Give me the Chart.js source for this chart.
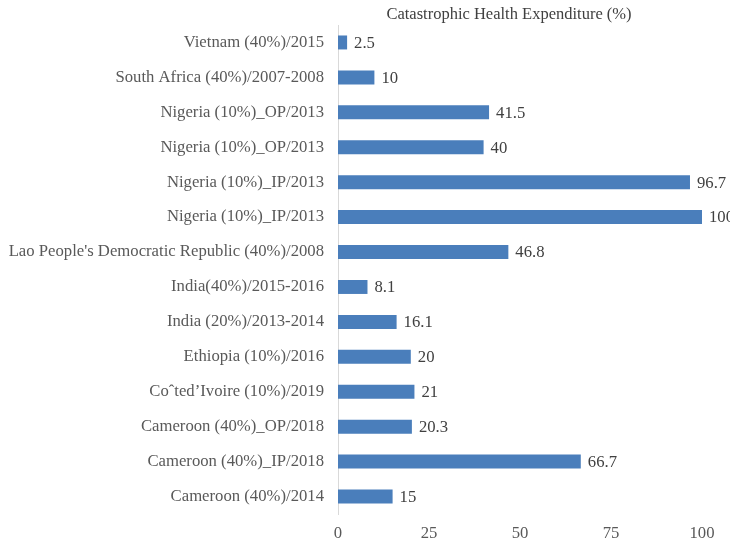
<!DOCTYPE html>
<html>
<head>
<meta charset="utf-8">
<script src="https://cdn.jsdelivr.net/npm/chart.js@4/dist/chart.umd.min.js"></script>
<style>
  html, body { margin: 0; padding: 0; background: #fff; }
  #wrap { width: 730px; height: 549px; }
</style>
</head>
<body>
<div id="wrap"><canvas id="myChart"></canvas></div>
<script>
var categories = [
  "Vietnam (40%)/2015",
  "South Africa (40%)/2007-2008",
  "Nigeria (10%)_OP/2013",
  "Nigeria (10%)_OP/2013",
  "Nigeria (10%)_IP/2013",
  "Nigeria (10%)_IP/2013",
  "Lao People's Democratic Republic (40%)/2008",
  "India(40%)/2015-2016",
  "India (20%)/2013-2014",
  "Ethiopia (10%)/2016",
  "Co\u02c6ted\u2019Ivoire (10%)/2019",
  "Cameroon (40%)_OP/2018",
  "Cameroon (40%)_IP/2018",
  "Cameroon (40%)/2014"
];
var che = [2.5, 10, 41.5, 40, 96.7, 100, 46.8, 8.1, 16.1, 20, 21, 20.3, 66.7, 15];
var xTicks = [0, 25, 50, 75, 100];
var chartTitle = "Catastrophic Health Expenditure (%)";

var fontFam = "'Liberation Serif', 'Times New Roman', serif";

// labels at the end of each bar + title over the plot
var barLabels = {
  id: "barLabels",
  afterDatasetsDraw(chart) {
    var ctx = chart.ctx;
    var meta = chart.getDatasetMeta(0);
    var area = chart.chartArea;
    ctx.save();
    ctx.font = "16.7px " + fontFam;
    ctx.fillStyle = "#404040";
    ctx.textBaseline = "middle";
    meta.data.forEach((bar, i) => {
      ctx.fillText(String(che[i]), bar.x + 7, bar.y + 1);
    });
    ctx.font = "16.5px " + fontFam;
    ctx.textAlign = "center";
    ctx.fillText(chartTitle, (area.left + area.right) / 2 - 11, 15);
    ctx.restore();
  }
};

new Chart("myChart", {
  type: "bar",
  data: {
    labels: categories,
    datasets: [{
      data: che,
      backgroundColor: "#4a7ebb",
      categoryPercentage: 1,
      barPercentage: 0.4
    }]
  },
  options: {
    indexAxis: "y",
    responsive: true,
    maintainAspectRatio: false,
    animation: false,
    layout: { padding: { left: 0, right: 28, top: 25, bottom: 0 } },
    plugins: {
      legend: { display: false },
      tooltip: { enabled: false },
      title: { display: false }
    },
    scales: {
      x: {
        min: 0,
        max: 100,
        afterBuildTicks(scale) {
          scale.ticks = xTicks.map(v => ({ value: v }));
        },
        afterFit(scale) { scale.height = 35; },
        grid: { display: false, drawTicks: false },
        border: { display: false },
        ticks: {
          color: "#595959",
          padding: 10,
          font: { family: fontFam, size: 16.7 }
        }
      },
      y: {
        afterFit(scale) { scale.width = 338; },
        grid: { display: false, drawTicks: false },
        border: { display: true, color: "#d9d9d9", width: 1 },
        ticks: {
          color: "#595959",
          padding: 14,
          font: { family: fontFam, size: 16.7 }
        }
      }
    }
  },
  plugins: [barLabels]
});
</script>
</body>
</html>
